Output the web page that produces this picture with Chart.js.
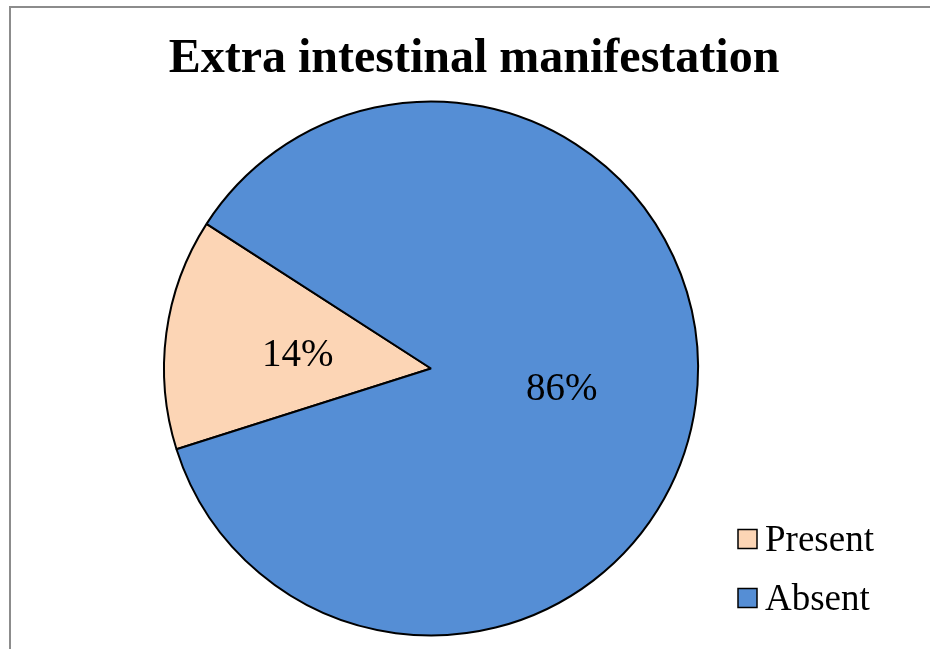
<!DOCTYPE html>
<html>
<head>
<meta charset="utf-8">
<script src="https://cdn.jsdelivr.net/npm/chart.js@4/dist/chart.umd.min.js"></script>
<style>
  html, body { margin: 0; padding: 0; background: #ffffff; }
  #wrap { position: relative; width: 930px; height: 649px; overflow: hidden; }
  #frame { position: absolute; left: 9px; top: 6px; width: 940px; height: 660px;
           border-top: 2px solid #8c8c8c; border-left: 2px solid #8c8c8c; box-sizing: border-box; }
  canvas { position: absolute; left: 0; top: 0; }
</style>
</head>
<body>
<div id="wrap">
  <div id="frame"></div>
  <canvas id="c" width="930" height="649"></canvas>
</div>
<script>
const chartTitle = "Extra intestinal manifestation";
const categories = ["Present", "Absent"];
const values = [14, 86];
const pctLabels = ["14%", "86%"];
const colors = ["#FCD5B5", "#558ED5"];

const serif = "'Liberation Serif', 'Times New Roman', serif";

const overlay = {
  id: 'overlay',
  afterDraw(chart) {
    const ctx = chart.ctx;
    ctx.save();
    // title
    ctx.fillStyle = '#000';
    ctx.font = "bold 48px " + serif;
    ctx.textAlign = 'center';
    ctx.textBaseline = 'alphabetic';
    ctx.fillText(chartTitle, 474, 72);

    // percentage labels inside slices
    const meta = chart.getDatasetMeta(0);
    ctx.font = "39px " + serif;
    const rf = [0.50, 0.49];
    const dx = [-1, 1];
    const dy = [5, 4];
    meta.data.forEach((arc, i) => {
      const p = arc.getProps(['x','y','startAngle','endAngle','outerRadius'], true);
      const mid = (p.startAngle + p.endAngle) / 2;
      const r = p.outerRadius * rf[i];
      const x = p.x + Math.cos(mid) * r + dx[i];
      const y = p.y + Math.sin(mid) * r + dy[i];
      ctx.textAlign = 'center';
      ctx.textBaseline = 'middle';
      ctx.fillText(pctLabels[i], x, y);
    });

    // legend
    ctx.font = "37px " + serif;
    ctx.textAlign = 'left';
    ctx.textBaseline = 'alphabetic';
    const legY = [539, 598];
    categories.forEach((c, i) => {
      ctx.fillStyle = colors[i];
      ctx.fillRect(738, legY[i] - 9.5, 19, 19);
      ctx.strokeStyle = '#000';
      ctx.lineWidth = 1.5;
      ctx.strokeRect(738, legY[i] - 9.5, 19, 19);
      ctx.fillStyle = '#000';
      ctx.fillText(c, 765, legY[i] + 12);
    });
    ctx.restore();
  }
};

new Chart(document.getElementById('c'), {
  type: 'pie',
  data: {
    labels: categories,
    datasets: [{
      data: values,
      backgroundColor: colors,
      borderColor: '#000000',
      borderWidth: 2,
      borderAlign: 'center'
    }]
  },
  options: {
    responsive: false,
    animation: false,
    rotation: 252.4,
    layout: { padding: { left: 163, right: 231, top: 100, bottom: 12 } },
    plugins: {
      legend: { display: false },
      title: { display: false },
      tooltip: { enabled: false }
    }
  },
  plugins: [overlay]
});
</script>
</body>
</html>
